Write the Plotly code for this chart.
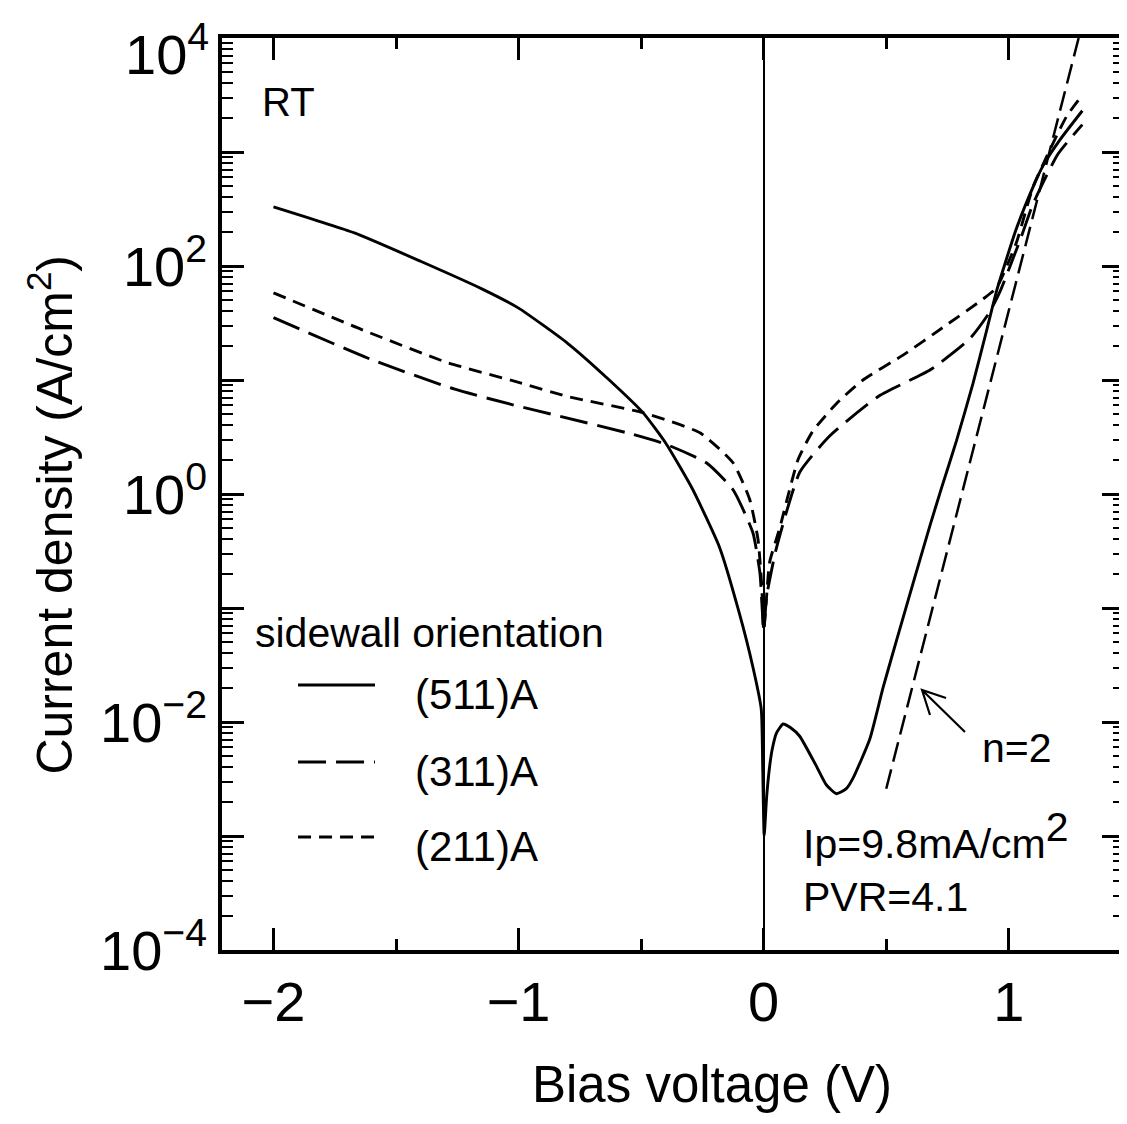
import plotly.graph_objects as go

# (511)A sidewall, solid
v_511 = [-2.0, -1.67, -1.40, -1.15, -1.0, -0.80, -0.63, -0.49, -0.40, -0.29, -0.18, -0.10,
         -0.045, -0.01, -0.004, 0.002, 0.012, 0.025, 0.035, 0.052, 0.079, 0.11, 0.147, 0.215,
         0.256, 0.297, 0.337, 0.364, 0.433, 0.487, 0.542, 0.637, 0.678, 0.725, 0.787, 0.854,
         0.909, 0.950, 1.03, 1.10, 1.14, 1.21, 1.30]
j_511 = [330, 195, 110, 63, 42.7, 21, 10, 5.1, 2.8, 1.1, 0.34, 0.091,
         0.031, 0.013, 0.004, 0.001, 0.0022, 0.0042, 0.0058, 0.0080, 0.0096, 0.0089, 0.0075, 0.0041,
         0.0028, 0.00235, 0.0026, 0.0032, 0.0071, 0.020, 0.052, 0.263, 0.525, 1.12, 2.95, 9.33,
         26.9, 60.3, 210, 500, 760, 1290, 2300]

# (311)A sidewall, long dash
v_311 = [-2.0, -1.6, -1.26, -1.02, -0.833, -0.533, -0.397, -0.234, -0.125, -0.044, -0.015, 0.0,
         0.012, 0.05, 0.147, 0.27, 0.47, 0.68, 0.84, 0.92, 0.963, 1.05, 1.10, 1.20, 1.30]
j_311 = [35.2, 15.1, 8.3, 6.03, 4.82, 3.33, 2.72, 1.88, 1.09, 0.457, 0.2, 0.063,
         0.126, 0.324, 1.55, 3.24, 7.24, 12.3, 22.9, 38.9, 58.9, 178, 355, 955, 1740]

# (211)A sidewall, short dash
v_211 = [-2.0, -1.64, -1.29, -1.0, -0.805, -0.49, -0.26, -0.125, -0.057, -0.023, -0.008, 0.0,
         0.01, 0.024, 0.065, 0.14, 0.2, 0.3, 0.405, 0.57, 0.73, 0.895, 0.95, 1.03, 1.10, 1.235, 1.30]
j_211 = [58.2, 27.7, 14.2, 9.55, 7.21, 5.15, 3.44, 1.88, 0.895, 0.398, 0.158, 0.063,
         0.112, 0.251, 0.50, 2.0, 3.55, 6.31, 10, 16.6, 28.8, 51.3, 64.6, 158, 501, 2040, 3160]

# ideal diode line, n=2
v_n2 = [0.50, 1.285]
j_n2 = [0.0026, 10000]

x_ticks = [-2, -1, 0, 1]
x_ticktext = ['\u22122', '\u22121', '0', '1']
y_ticks = [1e-4, 1e-2, 1, 1e2]
y_ticktext = ['10<sup>\u22124</sup>', '10<sup>\u22122</sup>', '10<sup>0</sup>', '10<sup>2</sup>']
y_ticks_plain = [1e-3, 1e-1, 10, 1e3, 1e4]
y_top_label = '10<sup>4</sup>'

series = [('(511)A', v_511, j_511, 'solid'),
          ('(311)A', v_311, j_311, '28px,10px'),
          ('(211)A', v_211, j_211, '13px,8px')]

FONT = 'Liberation Sans, Arial, Helvetica, sans-serif'
Y_RANGE = [-4, 4]

fig = go.Figure()
for name, v, j, dash in series:
    fig.add_trace(go.Scatter(x=v, y=j, mode='lines', name=name, showlegend=False,
                             line=dict(color='black', width=2.9, dash=dash,
                                       shape='spline', smoothing=0.5)))

fig.add_trace(go.Scatter(x=v_n2, y=j_n2, mode='lines', name='n=2', showlegend=False, yaxis='y2',
                         line=dict(color='black', width=2.5, dash='20px,8px')))

# hand drawn legend block
legend_y = [0.2906, 0.2061, 0.1239]
shapes = []
annotations = []
for (name, v, j, dash), ly in zip(series, legend_y):
    shapes.append(dict(type='line', xref='paper', yref='paper', x0=0.0843, x1=0.1696, y0=ly, y1=ly,
                       line=dict(color='black', width=2.9, dash=dash)))
    annotations.append(dict(text=name, xref='paper', yref='paper', x=0.212, y=ly - 0.010,
                            xanchor='left', yanchor='middle', showarrow=False,
                            font=dict(size=42, color='black')))

annotations += [
    # top decade label sits a bit lower than its tick, as in the original
    dict(text=y_top_label, xref='paper', yref='paper', x=-0.012, y=1.0, yshift=-12,
         xanchor='right', yanchor='middle', showarrow=False, font=dict(size=56, color='black')),
    dict(text='sidewall orientation', xref='paper', yref='paper', x=0.034, y=0.348,
         xanchor='left', yanchor='middle', showarrow=False, font=dict(size=41, color='black')),
    dict(text='RT', xref='paper', yref='paper', x=0.042, y=0.930,
         xanchor='left', yanchor='middle', showarrow=False, font=dict(size=40, color='black')),
    dict(text='n=2', xref='paper', yref='paper', x=0.840, y=0.222,
         xanchor='left', yanchor='middle', showarrow=False, font=dict(size=41, color='black')),
    dict(text='Ip=9.8mA/cm<sup><span style="font-size:41px">2</span></sup>',
         xref='paper', yref='paper', x=0.642, y=0.126,
         xanchor='left', yanchor='middle', showarrow=False, font=dict(size=41, color='black')),
    dict(text='PVR=4.1', xref='paper', yref='paper', x=0.642, y=0.058,
         xanchor='left', yanchor='middle', showarrow=False, font=dict(size=41, color='black')),
    dict(text='Bias voltage (V)', xref='paper', yref='paper', x=0.543, y=-0.148,
         xanchor='center', yanchor='middle', showarrow=False, font=dict(size=51, color='black')),
    dict(text='Current density (A/cm<sup>2</sup>)', xref='paper', yref='paper', x=-0.19, y=0.477,
         xanchor='center', yanchor='middle', textangle=-90, showarrow=False,
         font=dict(size=50, color='black')),
]

# arrow pointing at the n=2 line
shapes.append(dict(type='path', xref='paper', yref='paper',
                   path='M0.8237,0.2390 L0.7761,0.2851 M0.8027,0.2763 L0.7761,0.2851 L0.7849,0.2577',
                   line=dict(color='black', width=2.2)))

fig.update_layout(
    # page body keeps its default 8px margin, so the figure is 8px smaller than the window
    width=1119, height=1116,
    margin=dict(l=214, r=3, t=30, b=174),
    plot_bgcolor='white', paper_bgcolor='white',
    font=dict(family=FONT, color='black'),
    shapes=shapes,
    annotations=annotations,
    xaxis=dict(range=[-2.21, 1.47], automargin=False,
               tickmode='array', tickvals=x_ticks, ticktext=x_ticktext,
               tickfont=dict(size=56, color='black'),
               ticks='inside', ticklen=22, tickwidth=2.5, tickcolor='black',
               minor=dict(tickmode='linear', tick0=0, dtick=0.5, ticks='inside',
                          ticklen=11, tickwidth=2.5, tickcolor='black', showgrid=False),
               showline=True, linewidth=3.5, linecolor='black', mirror='ticks',
               showgrid=False,
               zeroline=True, zerolinecolor='black', zerolinewidth=2),
    yaxis=dict(type='log', range=Y_RANGE, automargin=False,
               tickmode='array', tickvals=y_ticks, ticktext=y_ticktext,
               tickfont=dict(size=56, color='black'),
               ticks='inside', ticklen=22, tickwidth=2.5, tickcolor='black',
               minor=dict(dtick='D1', ticks='inside', ticklen=11, tickwidth=2.2,
                          tickcolor='black', showgrid=False),
               showline=True, linewidth=3.5, linecolor='black', mirror='ticks',
               showgrid=False, zeroline=False),
    # same scale, only carries the unlabeled major ticks
    yaxis2=dict(type='log', range=Y_RANGE, overlaying='y', side='left', automargin=False,
                tickmode='array', tickvals=y_ticks_plain, showticklabels=False,
                ticks='inside', ticklen=22, tickwidth=2.5, tickcolor='black',
                showline=True, linewidth=3.5, linecolor='black', mirror='ticks',
                showgrid=False, zeroline=False),
)

fig.write_html('out.html')
